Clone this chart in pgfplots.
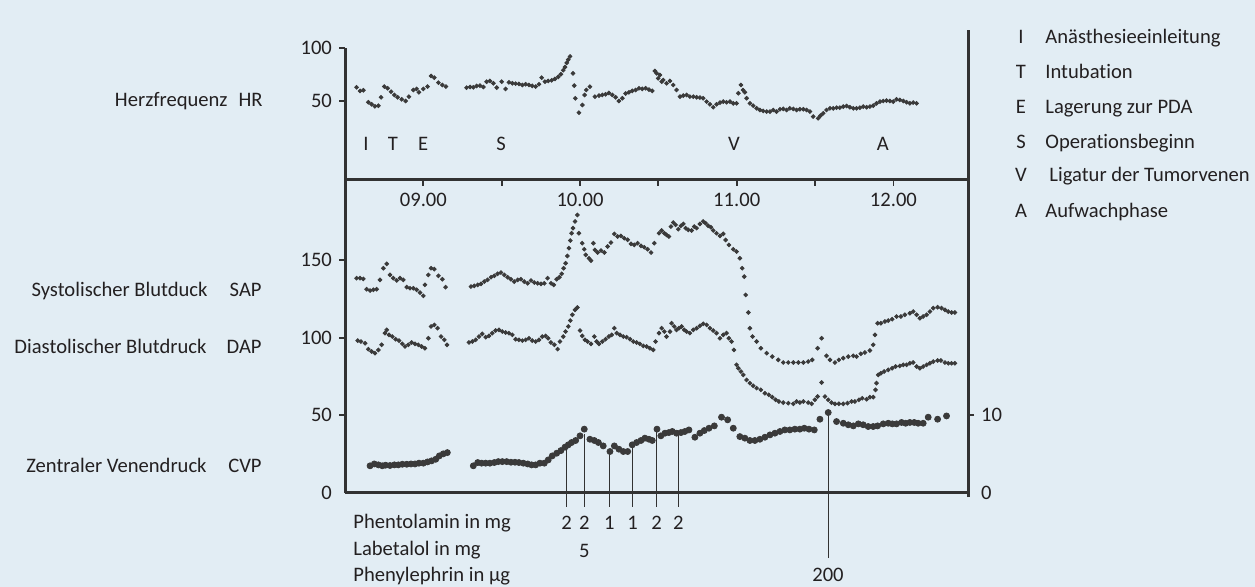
\documentclass[border=0pt]{standalone}
\usepackage{fontspec}
\setmainfont{Carlito}[Ligatures={NoCommon}]
\usepackage{pgfplots}
\usepackage{pgfplotstable}
\pgfplotsset{compat=1.18}
\definecolor{bg}{RGB}{226,237,244}
\definecolor{ax}{RGB}{50,50,50}
\definecolor{dot}{RGB}{58,58,58}
\definecolor{txt}{RGB}{35,32,33}
\newcommand{\f}{\fontsize{10.3pt}{12pt}\selectfont}

\pgfplotstableread{
x y
8.574 62.9
8.596 59.5
8.617 60.1
8.649 48.8
8.670 46.9
8.691 45.0
8.713 45.6
8.730 53.5
8.751 63.6
8.772 62.0
8.794 58.8
8.815 55.7
8.836 53.5
8.862 51.6
8.887 50.0
8.908 54.1
8.936 60.4
8.957 61.4
8.972 58.2
9.000 61.4
9.027 63.6
9.049 73.6
9.070 72.0
9.096 67.3
9.121 65.1
9.144 63.6
9.276 62.6
9.298 63.2
9.319 62.9
9.340 64.2
9.361 64.5
9.383 63.2
9.404 68.2
9.425 68.9
9.447 66.7
9.468 62.6
9.500 68.2
9.525 61.4
9.546 67.6
9.568 66.7
9.589 66.4
9.610 66.1
9.632 65.1
9.653 65.8
9.674 65.1
9.695 64.2
9.717 63.6
9.738 65.8
9.755 72.0
9.776 68.2
9.797 68.9
9.819 69.5
9.840 70.8
9.861 72.7
9.878 75.2
9.893 79.0
9.904 82.0
9.915 86.0
9.925 89.0
9.936 92.0
9.955 76.1
9.963 64.5
9.970 52.5
9.993 39.0
10.015 46.2
10.029 55.7
10.040 60.4
10.063 63.5
10.095 54.1
10.121 55.1
10.142 55.7
10.163 56.3
10.184 57.6
10.206 55.7
10.227 53.5
10.248 50.0
10.270 52.6
10.291 57.0
10.312 58.2
10.333 59.5
10.355 60.4
10.376 62.0
10.397 61.4
10.419 62.0
10.440 60.7
10.461 59.5
10.478 78.3
10.489 76.1
10.499 71.4
10.510 74.6
10.521 68.2
10.531 69.8
10.552 66.7
10.574 68.9
10.595 65.1
10.616 60.4
10.638 54.1
10.659 55.1
10.680 55.7
10.701 54.1
10.723 54.1
10.744 53.5
10.765 53.2
10.786 52.6
10.808 49.4
10.829 46.9
10.850 44.1
10.871 46.9
10.893 48.5
10.914 49.4
10.935 48.8
10.957 49.4
10.978 47.8
10.999 47.8
11.010 57.3
11.027 65.1
11.040 60.4
11.052 58.2
11.063 52.6
11.084 47.8
11.105 45.6
11.127 43.1
11.148 41.5
11.169 40.6
11.191 40.0
11.212 40.0
11.233 41.5
11.254 40.0
11.276 42.2
11.297 42.5
11.318 41.5
11.339 43.1
11.361 42.5
11.382 41.5
11.403 42.2
11.425 42.2
11.446 41.5
11.467 40.0
11.488 35.3
11.520 33.7
11.535 36.2
11.552 38.4
11.573 41.5
11.595 43.1
11.616 43.1
11.637 43.7
11.658 43.7
11.680 44.7
11.701 45.3
11.722 44.1
11.744 43.1
11.765 43.1
11.786 43.7
11.807 44.7
11.829 44.1
11.850 44.7
11.871 45.6
11.892 47.8
11.914 49.4
11.935 50.0
11.956 50.4
11.977 50.0
11.999 49.4
12.020 51.6
12.041 51.0
12.063 50.0
12.084 48.8
12.105 47.8
12.126 48.5
12.148 47.8
}\hrdata

\pgfplotstableread{
x y
8.574 138.3
8.596 138.3
8.617 137.8
8.638 131.2
8.660 130.3
8.681 130.8
8.702 131.2
8.723 137.2
8.745 144.7
8.766 147.5
8.787 140.4
8.808 138.3
8.830 136.8
8.851 138.3
8.872 137.2
8.894 132.5
8.915 131.8
8.936 131.8
8.957 130.8
8.979 129.0
9.000 126.9
9.010 134.0
9.032 140.4
9.049 144.7
9.070 144.1
9.096 139.8
9.121 137.6
9.142 132.5
9.304 132.9
9.325 133.3
9.347 134.0
9.368 134.6
9.389 136.1
9.410 137.2
9.432 138.9
9.453 139.8
9.474 141.1
9.495 141.9
9.517 140.4
9.538 138.9
9.559 137.6
9.580 136.1
9.602 137.2
9.623 137.6
9.644 136.1
9.666 135.0
9.687 136.8
9.708 135.5
9.729 135.0
9.751 134.6
9.772 135.0
9.793 138.3
9.815 135.0
9.832 134.0
9.851 137.6
9.868 138.9
9.883 141.1
9.895 144.7
9.908 147.9
9.919 152.6
9.929 157.6
9.938 162.5
9.946 167.2
9.955 170.5
9.968 174.8
9.983 179.0
9.993 167.2
10.014 160.8
10.027 156.9
10.036 153.3
10.057 151.1
10.070 149.6
10.085 160.8
10.095 156.5
10.112 154.8
10.134 156.1
10.155 154.8
10.176 158.7
10.197 161.2
10.219 166.8
10.240 165.1
10.261 165.5
10.282 164.0
10.304 163.0
10.325 160.4
10.346 159.7
10.367 160.8
10.389 159.1
10.410 158.2
10.431 156.9
10.453 154.8
10.474 160.8
10.504 167.2
10.521 169.0
10.538 167.2
10.552 166.2
10.567 165.1
10.580 171.5
10.595 174.1
10.610 172.6
10.627 169.8
10.644 172.0
10.659 173.2
10.674 170.5
10.691 169.4
10.712 169.0
10.729 171.5
10.744 170.5
10.765 173.2
10.786 174.8
10.801 173.7
10.818 172.0
10.835 171.1
10.850 169.0
10.871 167.2
10.893 165.5
10.914 166.8
10.929 162.9
10.950 159.7
10.978 156.9
10.999 155.4
11.020 151.1
11.035 144.7
11.048 139.3
11.057 127.5
11.074 116.2
11.084 106.1
11.101 100.7
11.127 97.5
11.154 93.2
11.191 90.0
11.227 87.8
11.265 85.7
11.297 84.0
11.329 84.0
11.361 84.0
11.393 84.0
11.425 84.0
11.456 84.6
11.482 85.7
11.516 93.2
11.542 99.6
11.573 88.3
11.595 85.7
11.627 84.0
11.652 85.7
11.680 86.8
11.712 87.8
11.744 88.3
11.765 87.8
11.792 89.6
11.818 90.4
11.850 91.7
11.871 95.4
11.882 101.8
11.899 109.3
11.920 109.3
11.946 110.4
11.967 111.0
11.992 111.9
12.020 113.6
12.048 113.6
12.073 114.7
12.105 115.7
12.126 116.8
12.148 114.7
12.169 112.5
12.190 113.6
12.212 114.7
12.233 116.8
12.254 119.0
12.282 119.6
12.307 119.0
12.329 117.9
12.350 116.8
12.371 116.2
12.392 116.2
}\sapdata

\pgfplotstableread{
x y
8.581 98.1
8.602 97.5
8.628 96.4
8.649 92.6
8.670 91.1
8.691 90.0
8.713 92.1
8.734 95.4
8.755 102.9
8.766 105.0
8.781 101.8
8.802 100.7
8.823 99.0
8.845 98.1
8.866 96.0
8.883 94.3
8.904 95.4
8.925 96.9
8.947 96.0
8.968 95.4
8.989 94.3
9.010 93.2
9.032 99.6
9.049 107.2
9.070 108.2
9.091 106.1
9.113 100.7
9.134 98.6
9.151 95.4
9.291 96.9
9.313 97.5
9.334 98.6
9.355 100.7
9.376 102.4
9.398 100.3
9.419 101.1
9.440 102.9
9.461 104.6
9.483 105.0
9.504 103.9
9.525 103.3
9.546 102.9
9.568 101.8
9.589 99.0
9.610 98.6
9.632 98.1
9.653 98.6
9.674 99.6
9.695 98.1
9.717 97.5
9.738 98.6
9.759 100.7
9.780 101.1
9.797 99.6
9.814 96.9
9.836 95.4
9.857 92.6
9.872 97.5
9.893 100.7
9.908 103.9
9.925 107.2
9.938 111.0
9.951 114.7
9.968 117.9
9.983 119.4
10.000 104.6
10.014 101.1
10.031 98.6
10.048 97.5
10.070 96.0
10.091 100.7
10.106 97.5
10.121 96.0
10.142 97.5
10.163 99.0
10.184 100.7
10.202 101.8
10.219 106.1
10.234 102.9
10.255 101.8
10.276 100.7
10.297 100.3
10.319 99.0
10.340 97.5
10.361 96.9
10.382 96.0
10.404 94.7
10.425 94.3
10.446 93.2
10.467 92.1
10.482 97.5
10.504 102.9
10.521 106.1
10.538 103.9
10.552 100.7
10.574 103.9
10.584 109.3
10.601 107.2
10.616 105.0
10.631 106.1
10.648 107.2
10.665 105.0
10.680 103.9
10.701 102.9
10.723 105.0
10.744 106.1
10.765 107.6
10.786 108.9
10.808 108.2
10.829 106.1
10.850 104.6
10.871 102.9
10.893 99.6
10.914 101.8
10.935 102.9
10.950 99.6
10.967 97.5
10.982 92.1
10.999 82.5
11.010 80.3
11.027 78.2
11.042 76.0
11.063 72.8
11.084 70.7
11.105 69.0
11.127 67.5
11.154 66.4
11.180 64.2
11.205 63.2
11.227 61.7
11.248 60.0
11.269 58.9
11.297 58.2
11.329 57.8
11.361 57.4
11.382 58.9
11.403 58.2
11.425 58.9
11.456 58.2
11.478 57.4
11.499 60.0
11.516 62.1
11.542 71.1
11.563 62.1
11.584 60.0
11.605 58.2
11.627 57.4
11.652 57.4
11.680 57.4
11.707 57.8
11.733 58.9
11.754 58.9
11.780 60.0
11.801 61.0
11.829 60.4
11.850 61.7
11.871 61.7
11.886 66.4
11.892 70.7
11.903 76.0
11.920 77.1
11.941 78.2
11.967 79.3
11.992 80.3
12.014 81.4
12.041 81.8
12.063 82.5
12.084 82.5
12.105 83.5
12.126 84.0
12.148 81.4
12.169 80.3
12.190 81.4
12.212 82.5
12.233 83.5
12.254 84.6
12.282 85.3
12.303 85.3
12.329 84.0
12.350 83.5
12.371 83.5
12.392 83.5
}\dapdata

\pgfplotstableread{
x y
8.660 3.50
8.687 3.74
8.713 3.62
8.738 3.50
8.759 3.58
8.787 3.54
8.815 3.62
8.840 3.62
8.866 3.70
8.894 3.70
8.921 3.74
8.947 3.74
8.972 3.84
9.000 3.84
9.027 4.00
9.053 4.14
9.079 4.34
9.102 4.78
9.127 5.04
9.153 5.20
9.319 3.50
9.347 3.92
9.372 3.84
9.398 3.84
9.425 3.84
9.453 3.92
9.478 4.04
9.504 4.04
9.532 4.04
9.559 3.96
9.585 3.96
9.610 3.92
9.638 3.84
9.666 3.74
9.691 3.62
9.717 3.62
9.744 3.84
9.772 3.84
9.797 4.26
9.823 4.78
9.851 5.12
9.878 5.46
9.904 5.90
9.925 6.20
9.946 6.50
9.972 6.76
10.000 7.36
10.027 8.22
10.063 6.92
10.091 6.76
10.117 6.50
10.148 6.06
10.191 5.34
10.219 6.06
10.248 5.64
10.276 5.34
10.304 5.34
10.333 6.20
10.361 6.50
10.389 6.76
10.414 7.06
10.440 6.92
10.461 6.76
10.491 8.22
10.516 7.36
10.542 7.70
10.567 7.78
10.589 7.92
10.616 7.70
10.644 7.78
10.669 7.92
10.695 8.12
10.733 7.18
10.765 7.70
10.793 8.04
10.823 8.34
10.857 8.64
10.903 9.76
10.942 9.42
10.978 8.34
11.020 7.26
11.052 7.06
11.084 6.76
11.116 6.76
11.148 6.92
11.180 7.18
11.212 7.48
11.244 7.70
11.276 7.92
11.307 8.12
11.339 8.12
11.371 8.22
11.403 8.22
11.431 8.34
11.461 8.22
11.495 8.12
11.531 9.50
11.584 10.36
11.637 9.20
11.680 8.98
11.712 8.78
11.744 8.64
11.776 8.90
11.807 8.78
11.839 8.56
11.871 8.56
11.899 8.64
11.935 8.90
11.967 8.98
11.993 8.90
12.020 8.90
12.052 9.08
12.078 8.98
12.105 9.08
12.133 9.08
12.158 8.98
12.190 8.98
12.222 9.76
12.282 9.50
12.339 9.92
}\cvpdata

\begin{document}
\begin{tikzpicture}[every node/.style={font=\f, text=txt}]
\useasboundingbox (0,0) rectangle (627.5pt,293.5pt);
\fill[bg] (0,0) rectangle (627.5pt,293.5pt);

% ---------- top panel: heart rate ----------
\begin{axis}[
  at={(172.5pt,203.5pt)}, anchor=south west,
  scale only axis, width=311.5pt, height=66pt,
  xmin=8.5, xmax=12.476, ymin=-24.5, ymax=100,
  axis x line*=bottom, axis y line*=left,
  axis line style={-, line width=1.5pt, draw=ax},
  xtick={9,9.5,10,10.5,11,11.5,12},
  xticklabels={09.00,,10.00,,11.00,,12.00},
  ytick={50,100},
  tick align=outside, major tick length=3pt,
  tick style={line width=0.9pt, draw=ax},
  tick label style={font=\f, text=txt},
  /pgf/number format/assume math mode=true,
  clip=false,
]
\addplot[only marks, mark=*, mark size=0.95pt, color=dot, mark options={draw=none, fill=dot}] table {\hrdata};
\node at (axis cs:8.634,9.4) {I};
\node at (axis cs:8.806,9.4) {T};
\node at (axis cs:8.998,9.4) {E};
\node at (axis cs:9.496,9.4) {S};
\node at (axis cs:10.983,9.4) {V};
\node at (axis cs:11.933,9.4) {A};
\end{axis}

% ---------- bottom panel: blood pressure ----------
\begin{axis}[
  at={(172.5pt,47pt)}, anchor=south west,
  scale only axis, width=311.5pt, height=156.5pt,
  xmin=8.5, xmax=12.476, ymin=0, ymax=201.5,
  axis x line*=bottom, axis y line*=left,
  axis line style={-, line width=1.5pt, draw=ax},
  xtick=\empty,
  ytick={50,100,150},
  extra y ticks={0},
  extra y tick style={major tick length=0pt, tick label style={xshift=-3pt}},
  tick align=outside, major tick length=3pt,
  tick style={line width=0.9pt, draw=ax},
  tick label style={font=\f, text=txt},
  /pgf/number format/assume math mode=true,
  clip=false,
]
\addplot[only marks, mark=*, mark size=0.95pt, color=dot, mark options={draw=none, fill=dot}] table {\sapdata};
\addplot[only marks, mark=*, mark size=0.95pt, color=dot, mark options={draw=none, fill=dot}] table {\dapdata};
\end{axis}

% ---------- CVP on the right scale ----------
\begin{axis}[
  at={(172.5pt,47pt)}, anchor=south west,
  scale only axis, width=311.5pt, height=156.5pt,
  xmin=8.5, xmax=12.476, ymin=0, ymax=40.3,
  axis x line=none, axis y line*=right,
  y axis line style={draw=none},
  ytick={10},
  extra y ticks={0},
  extra y tick style={major tick length=0pt, tick label style={xshift=3pt}},
  tick align=outside, major tick length=3pt,
  tick style={line width=0.9pt, draw=ax},
  tick label style={font=\f, text=txt},
  /pgf/number format/assume math mode=true,
  clip=false,
]
\draw[draw=ax, line width=1.5pt] (axis cs:12.476,-0.52) -- (axis cs:12.476,59.6);
\draw[draw=ax, line width=0.5pt] (axis cs:9.914,-1.76) -- (axis cs:9.914,5.6);
\draw[draw=ax, line width=0.5pt] (axis cs:10.027,-1.76) -- (axis cs:10.027,7.6);
\draw[draw=ax, line width=0.5pt] (axis cs:10.186,-1.76) -- (axis cs:10.186,5.1);
\draw[draw=ax, line width=0.5pt] (axis cs:10.336,-1.76) -- (axis cs:10.336,6.2);
\draw[draw=ax, line width=0.5pt] (axis cs:10.489,-1.76) -- (axis cs:10.489,8.1);
\draw[draw=ax, line width=0.5pt] (axis cs:10.627,-1.76) -- (axis cs:10.627,7.5);
\draw[draw=ax, line width=0.5pt] (axis cs:11.584,-8.4) -- (axis cs:11.584,10.0);
\addplot[only marks, mark=*, mark size=1.5pt, color=dot, mark options={draw=none, fill=dot}] table {\cvpdata};
\end{axis}

% ---------- left labels ----------
\tikzset{lab/.style={inner sep=0pt, text height=6.6pt, text depth=0pt}}
\node[lab, anchor=east] at (114pt,243.5pt) {Herzfrequenz};
\node[lab, anchor=east] at (131.5pt,243.5pt) {HR};
\node[lab, anchor=east] at (104pt,148.5pt) {Systolischer Blutduck};
\node[lab, anchor=east] at (131pt,148.5pt) {SAP};
\node[lab, anchor=east] at (103.5pt,120pt) {Diastolischer Blutdruck};
\node[lab, anchor=east] at (131pt,120pt) {DAP};
\node[lab, anchor=east] at (103.5pt,60.5pt) {Zentraler Venendruck};
\node[lab, anchor=east] at (131pt,60.5pt) {CVP};

% ---------- drug annotations ----------
\node[lab, anchor=west] at (176.5pt,32.5pt) {Phentolamin in mg};
\node[lab, anchor=west] at (176.5pt,19pt) {Labetalol in mg};
\node[lab, anchor=west] at (176.5pt,6pt) {Phenylephrin in µg};
\node[lab] at (283.35pt,32.2pt) {2};
\node[lab] at (292.15pt,32.2pt) {2};
\node[lab] at (304.65pt,32.2pt) {1};
\node[lab] at (316.35pt,32.2pt) {1};
\node[lab] at (328.35pt,32.2pt) {2};
\node[lab] at (339.15pt,32.2pt) {2};
\node[lab] at (292.15pt,18pt) {5};
\node[lab] at (414pt,6pt) {200};

% ---------- legend on the right ----------
\node[lab] at (510.5pt,274.85pt) {I};
\node[lab, anchor=west] at (522.5pt,274.85pt) {Anästhesieeinleitung};
\node[lab] at (510.5pt,257.35pt) {T};
\node[lab, anchor=west] at (522.5pt,257.35pt) {Intubation};
\node[lab] at (510.5pt,239.85pt) {E};
\node[lab, anchor=west] at (522.5pt,239.85pt) {Lagerung zur PDA};
\node[lab] at (510.5pt,222.65pt) {S};
\node[lab, anchor=west] at (522.5pt,222.65pt) {Operationsbeginn};
\node[lab] at (510.5pt,206pt) {V};
\node[lab, anchor=west] at (524.5pt,206pt) {Ligatur der Tumorvenen};
\node[lab] at (510.5pt,188.15pt) {A};
\node[lab, anchor=west] at (522.5pt,188.15pt) {Aufwachphase};
\end{tikzpicture}
\end{document}
